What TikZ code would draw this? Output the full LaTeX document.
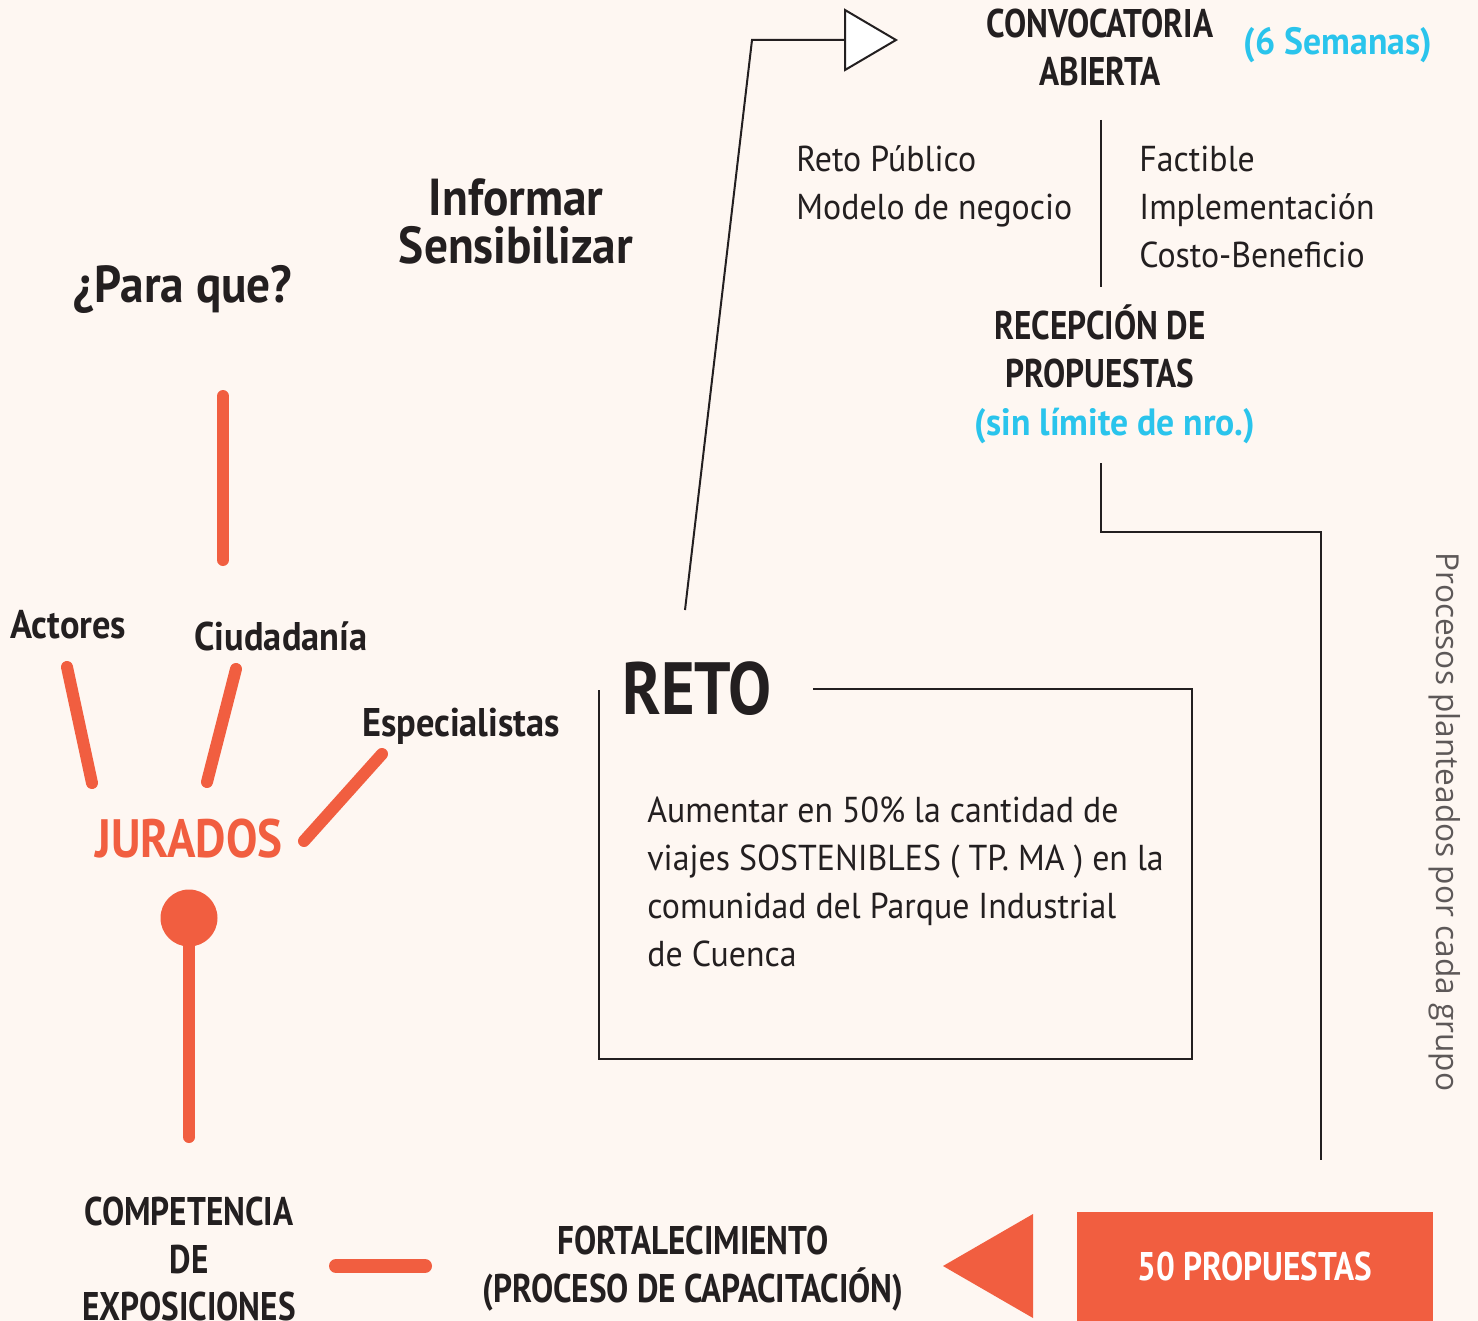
\documentclass[tikz,border=0pt]{standalone}
\usepackage{fontspec}
\setmainfont{PT Sans}[FakeStretch=0.94]
\newfontfamily\hdfont{PT Sans}[FakeStretch=0.83]
\newfontfamily\lbfont{PT Sans}[FakeStretch=0.91]
\newfontfamily\retofont{PT Sans}[FakeStretch=0.87]
\newfontfamily\cyfont{PT Sans}[FakeStretch=0.94]
\newfontfamily\sidefont{Open Sans}
\definecolor{bg}{HTML}{FEF7F2}
\definecolor{ink}{HTML}{231F20}
\definecolor{naranja}{HTML}{F15E40}
\definecolor{celeste}{HTML}{2AC4EC}
\definecolor{gris}{HTML}{5D5858}
\begin{document}
\begin{tikzpicture}[x=0.5pt,y=-0.5pt,
  txt/.style={inner sep=0pt, text=ink, anchor=base west, font=\fontsize{18}{22}\selectfont},
  hd/.style={inner sep=0pt, text=ink, anchor=base, font=\hdfont\bfseries\fontsize{20}{24}\selectfont},
  lb/.style={inner sep=0pt, text=ink, anchor=base, font=\lbfont\bfseries\fontsize{20}{24}\selectfont},
  big/.style={inner sep=0pt, text=ink, anchor=base, font=\lbfont\bfseries\fontsize{26}{30}\selectfont},
  cy/.style={inner sep=0pt, text=celeste, anchor=base, font=\cyfont\bfseries\fontsize{19}{24}\selectfont},
  thin/.style={draw=ink, line width=1pt},
  oline/.style={draw=naranja, line width=6pt, line cap=round}
]
\fill[bg] (0,0) rectangle (1478,1321);
\useasboundingbox (0,0) rectangle (1478,1321);

% top right
\node[hd] (conv1) at (1100,38) {CONVOCATORIA};
\node[hd] (conv2) at (1100,86) {ABIERTA};
\node[cy] (sem) at (1338,55) {(6 Semanas)};
\coordinate (tri) at (845,40);
\draw[thin, fill=white] (845,10) -- (896,40) -- (845,70) -- cycle;

\node[txt] (rp) at (796,171.5) {Reto Público};
\node[txt] (mn) at (796,219.5) {Modelo de negocio};
\node[txt] (fa) at (1139,171.5) {Factible};
\node[txt] (im) at (1139,219.5) {Implementación};
\node[txt] (cb) at (1139,267.5) {Costo-Beneficio};
\coordinate (vt) at (1101,120);
\coordinate (vb) at (1101,287);
\draw[thin] (vt) -- (vb);

\node[hd] (rec1) at (1100,339) {RECEPCIÓN DE};
\node[hd] (rec2) at (1100,387) {PROPUESTAS};
\node[cy] (sin) at (1115,435) {(sin límite de nro.)};

\coordinate (l1) at (1101,463);
\coordinate (l2) at (1321,532);
\coordinate (l3) at (1321,1160);
\draw[thin] (l1) |- (l2) -- (l3);

\node[inner sep=0pt, rotate=-90, text=gris, font=\sidefont\fontsize{15.8}{19}\selectfont] (proc) at (1445,822) {Procesos planteados por cada grupo};

% Reto
\node[inner sep=0pt, text=ink, anchor=base west, font=\retofont\bfseries\fontsize{37}{40}\selectfont] (reto) at (622,714) {RETO};
\coordinate (b1) at (813,689);
\coordinate (b2) at (1192,689);
\coordinate (b3) at (1192,1059);
\coordinate (b4) at (599,1059);
\coordinate (b5) at (599,690);
\draw[thin] (b1) -- (b2) -- (b3) -- (b4) -- (b5);
\node[txt] (d1) at (647,822.5) {Aumentar en 50\% la cantidad de};
\node[txt] (d2) at (647,870.5) {viajes SOSTENIBLES ( TP. MA ) en la};
\node[txt] (d3) at (647,918.5) {comunidad del Parque Industrial};
\node[txt] (d4) at (647,966.5) {de Cuenca};

\coordinate (rt) at (685,610);
\coordinate (bend) at (752,40);
\draw[thin] (rt) -- (bend) -- (tri);

% left side
\node[big] (para) at (183,303) {¿Para que?};
\node[big] (inf) at (516,216) {Informar};
\node[big] (sen) at (516,264) {Sensibilizar};
\coordinate (pv1) at (223,396);
\coordinate (pv2) at (223,560);
\draw[oline] (pv1) -- (pv2);

\node[lb, anchor=base west] (act) at (10,638) {Actores};
\node[lb] (ciu) at (281,650) {Ciudadanía};
\node[lb] (esp) at (461,736) {Especialistas};
\node[inner sep=0pt, text=naranja, anchor=base, font=\retofont\bfseries\fontsize{27}{30}\selectfont] (jur) at (189,857) {JURADOS};
\coordinate (a1) at (67,667); \coordinate (a2) at (92,783);
\coordinate (c1) at (236,669); \coordinate (c2) at (207,782);
\coordinate (e1) at (382,754); \coordinate (e2) at (304,841);
\draw[oline] (a1) -- (a2);
\draw[oline] (c1) -- (c2);
\draw[oline] (e1) -- (e2);

\node[circle, fill=naranja, minimum size=28.5pt, inner sep=0pt] (dot) at (189,918) {};
\coordinate (st) at (189,1137);
\draw[oline, line cap=butt] (dot.center) -- (st);
\fill[naranja] (st) circle (3pt);

\node[hd] (comp1) at (189,1225) {COMPETENCIA};
\node[hd] (comp2) at (189,1273) {DE};
\node[hd] (comp3) at (189,1320) {EXPOSICIONES};
\coordinate (h1) at (336,1266); \coordinate (h2) at (425,1266);
\draw[naranja, line width=7pt, line cap=round] (h1) -- (h2);

\node[hd] (fort1) at (693,1254) {FORTALECIMIENTO};
\node[hd] (fort2) at (693,1302) {(PROCESO DE CAPACITACIÓN)};

\fill[naranja] (943,1266) -- (1033,1214) -- (1033,1318) -- cycle;
\node[fill=naranja, minimum width=178pt, minimum height=54.5pt, inner sep=0pt, anchor=north west] (prop) at (1077,1212) {};
\node[hd, text=white] (propt) at (1255,1280) {50 PROPUESTAS};
\end{tikzpicture}
\end{document}
